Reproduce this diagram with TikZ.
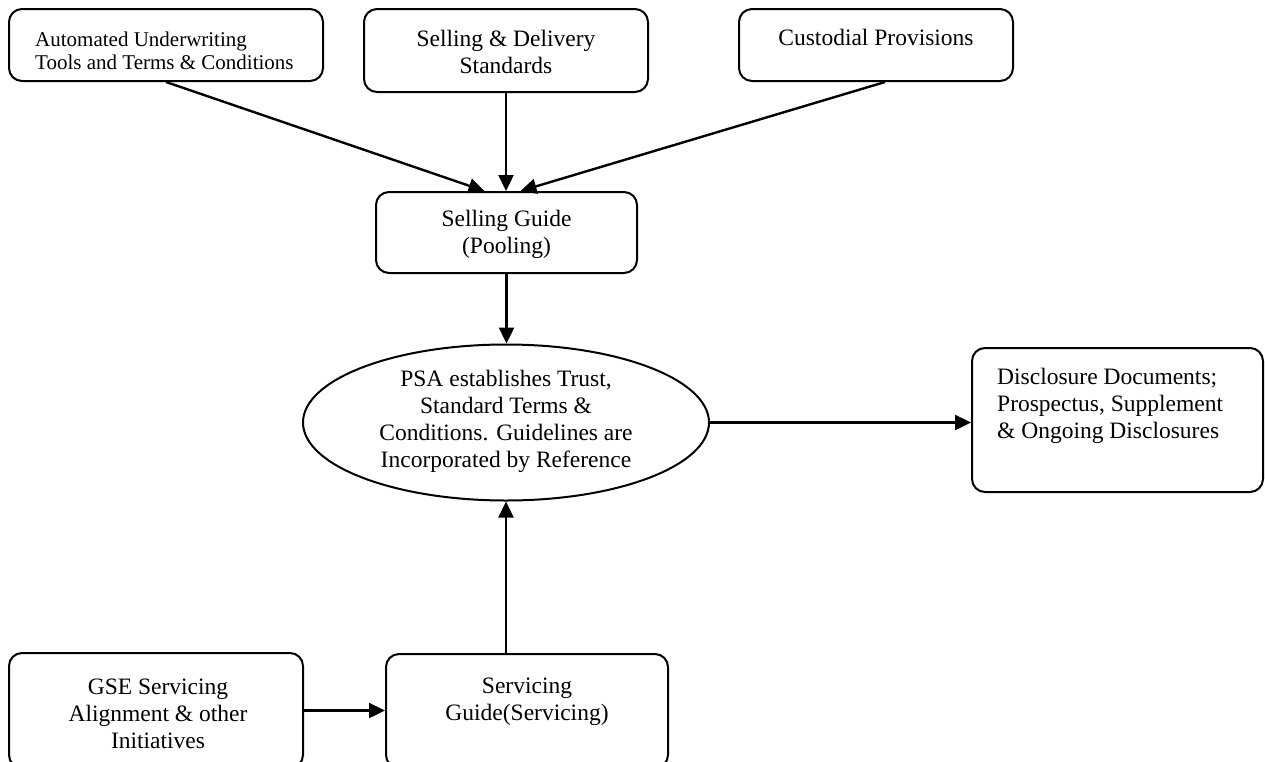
\documentclass[tikz,border=0pt]{standalone}
\usepackage{fontspec}
\setmainfont{Liberation Serif}
\usetikzlibrary{calc,positioning,shapes.geometric,arrows.meta}

\begin{document}
\begin{tikzpicture}[
    x=1pt,y=-1pt,
    box/.style={draw,line width=2pt,rounded corners=13pt},
    oval/.style={draw,line width=2pt,ellipse,inner sep=0pt},
    txt/.style={inner sep=0pt,align=center,font=\fontsize{23.5}{27}\selectfont},
    smalltxt/.style={inner sep=0pt,align=left,font=\fontsize{21}{22.5}\selectfont},
    flow/.style={draw,line width=2.4pt,-{Triangle[length=16pt,width=15pt]}},
  ]

  \useasboundingbox (0,0) rectangle (1265,761);
  \clip (0,0) rectangle (1265,761);

  % top row

  \node (auw) at (166,45) [box,minimum width=314,minimum height=72] {};
  \node (auw-t) at (35,69) [smalltxt,anchor=base west] {Automated Underwriting\\Tools and Terms \& Conditions};

  \node (sdel) at (506,50.5) [box,minimum width=284,minimum height=83] {};
  \node (sdel-t) at (506,73) [txt,anchor=base] {Selling \& Delivery\\Standards};

  \node (cust) at (876,45) [box,minimum width=274,minimum height=72] {};
  \node (cust-t) at (876,45) [txt,anchor=base] {Custodial Provisions};

  % selling guide

  \node (sg) at (506.5,232.5) [box,minimum width=261,minimum height=81] {};
  \node (sg-t) at (506.5,253) [txt,anchor=base] {Selling Guide\\(Pooling)};

  % PSA and disclosure

  \node (psa) at (506,422.5) [oval,minimum width=406,minimum height=156] {};
  \node (psa-t) at (506,467) [txt,anchor=base] {PSA establishes Trust,\\Standard Terms \&\\Conditions. Guidelines are\\Incorporated by Reference};

  \node (disc) at (1117.5,420) [box,minimum width=291,minimum height=144] {};
  \node (disc-t) at (997,438) [txt,align=left,anchor=base west] {Disclosure Documents;\\Prospectus, Supplement\\\& Ongoing Disclosures};

  % bottom row

  \node (gse) at (156,710.5) [box,minimum width=294,minimum height=115] {};
  \node (gse-t) at (158,748) [txt,anchor=base] {GSE Servicing\\Alignment \& other\\Initiatives};

  \node (svc) at (527,711) [box,minimum width=282,minimum height=114] {};
  \node (svc-t) at (527,720) [txt,anchor=base] {Servicing\\Guide(Servicing)};

  % connectors

  \draw[flow] (auw.south) -- ($(sg.north)+(-22,0)$);
  \draw[flow] (sdel.south) -- (sdel.south |- sg.north);
  \draw[flow] ($(cust.south)+(9,0)$) -- ($(sg.north)+(14,0)$);

  \draw[flow] (sg.south) -- (sg.south |- psa.north);
  \draw[flow] (psa.east) -- (psa.east -| disc.west);

  \draw[flow] (svc.north -| psa.south) -- (psa.south);
  \draw[flow] (gse.east) -- (gse.east -| svc.west);

\end{tikzpicture}
\end{document}
